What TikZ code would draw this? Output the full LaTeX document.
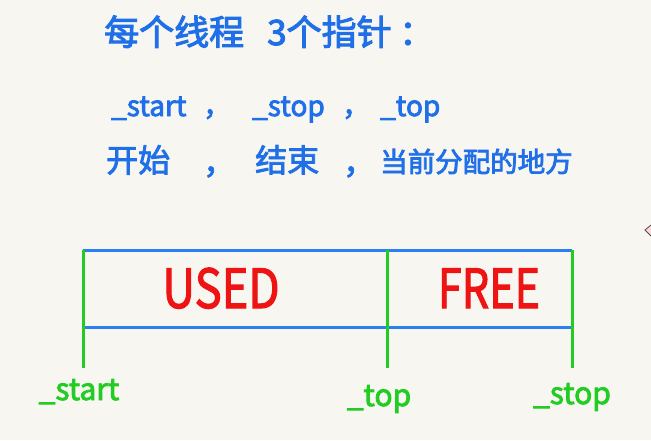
\documentclass[tikz,border=0pt]{standalone}
\usepackage{fontspec}
\setmainfont{Noto Sans CJK SC}
\newcommand{\inkheavy}[1]{\special{pdf:literal direct 2 Tr #1 w}}
\definecolor{paper}{HTML}{F8F6F1}
\definecolor{inkblue}{HTML}{1F6FE8}
\definecolor{lineblue}{HTML}{2A80F2}
\definecolor{inkred}{HTML}{EE1414}
\definecolor{inkgreen}{HTML}{22CC22}
\tikzset{
  txt/.style={inner sep=0pt},
  bluetxt/.style={txt, text=inkblue, font=\fontsize{28}{30}\selectfont\inkheavy{0.8}},
  cjktxt/.style={txt, text=inkblue, font=\fontsize{32}{34}\selectfont\inkheavy{0.8}},
  smallcjk/.style={txt, text=inkblue, font=\fontsize{27.5}{30}\selectfont\inkheavy{0.8}},
  titletxt/.style={txt, text=inkblue, font=\fontsize{35}{38}\selectfont\inkheavy{1}},
  redtxt/.style={txt, text=inkred, font=\fontsize{54}{58}\selectfont\inkheavy{1.2}},
  greentxt/.style={txt, text=inkgreen, font=\fontsize{30}{32}\selectfont\inkheavy{0.8}},
  bluerule/.style={draw=lineblue, line width=3pt},
  greenrule/.style={draw=inkgreen, line width=3pt},
}
\begin{document}
\begin{tikzpicture}[x=1pt,y=-1pt]
\fill[paper] (0,0) rectangle (651,440);
\useasboundingbox (0,0) rectangle (651,440);
% title
\node[titletxt, anchor=base west] (t1) at (104,45) {每个线程};
\node[titletxt, anchor=base west] (t2) at (267,45) {3个指针};
\node[titletxt, anchor=base west] (t3) at (399,45) {：};
% line 2
\node[bluetxt, anchor=base west] (a1) at (111,116) {\_start};
\node[bluetxt, anchor=base west] (a2) at (203,116) {，};
\node[bluetxt, anchor=base west] (a3) at (252,116) {\_stop};
\node[bluetxt, anchor=base west] (a4) at (342,116) {，};
\node[bluetxt, anchor=base west] (a5) at (380,116) {\_top};
% line 3
\node[cjktxt, anchor=base west] (b1) at (106,172) {开始};
\node[cjktxt, anchor=base west] (b2) at (203,174) {，};
\node[cjktxt, anchor=base west] (b3) at (255,172) {结束};
\node[cjktxt, anchor=base west] (b4) at (343,174) {，};
\node[smallcjk, anchor=base west] (b5) at (380,172) {当前分配的地方};
% frame coordinates
\coordinate (tl) at (83,250);
\coordinate (tm) at (387,250);
\coordinate (tr) at (572,250);
\coordinate (bl) at (83,327);
\coordinate (bm) at (387,327);
\coordinate (br) at (572,327);
\coordinate (el) at (83,368);
\coordinate (em) at (387,368);
\coordinate (er) at (572,368);
\draw[bluerule] (tl) -- (tr);
\draw[bluerule] (bl) -- (br);
\draw[greenrule] (tl) -- (el);
\draw[greenrule] (tm) -- (em);
\draw[greenrule] (tr) -- (er);
% cell labels
\node[redtxt, anchor=base] (used) at (221,308) {\scalebox{0.84}[1]{USED}};
\node[redtxt, anchor=base] (free) at (489,308) {\scalebox{0.8}[1]{FREE}};
% pointer labels
\node[greentxt, anchor=base] (ls) at (79,400) {\_start};
\node[greentxt, anchor=base] (lt) at (379,406) {\_top};
\node[greentxt, anchor=base] (lp) at (572,404) {\_stop};
% small mark at right edge
\draw[fill=pink!60, draw=black!70, line width=0.8pt] (651,225) -- (645,230) -- (651,236);
\end{tikzpicture}
\end{document}
